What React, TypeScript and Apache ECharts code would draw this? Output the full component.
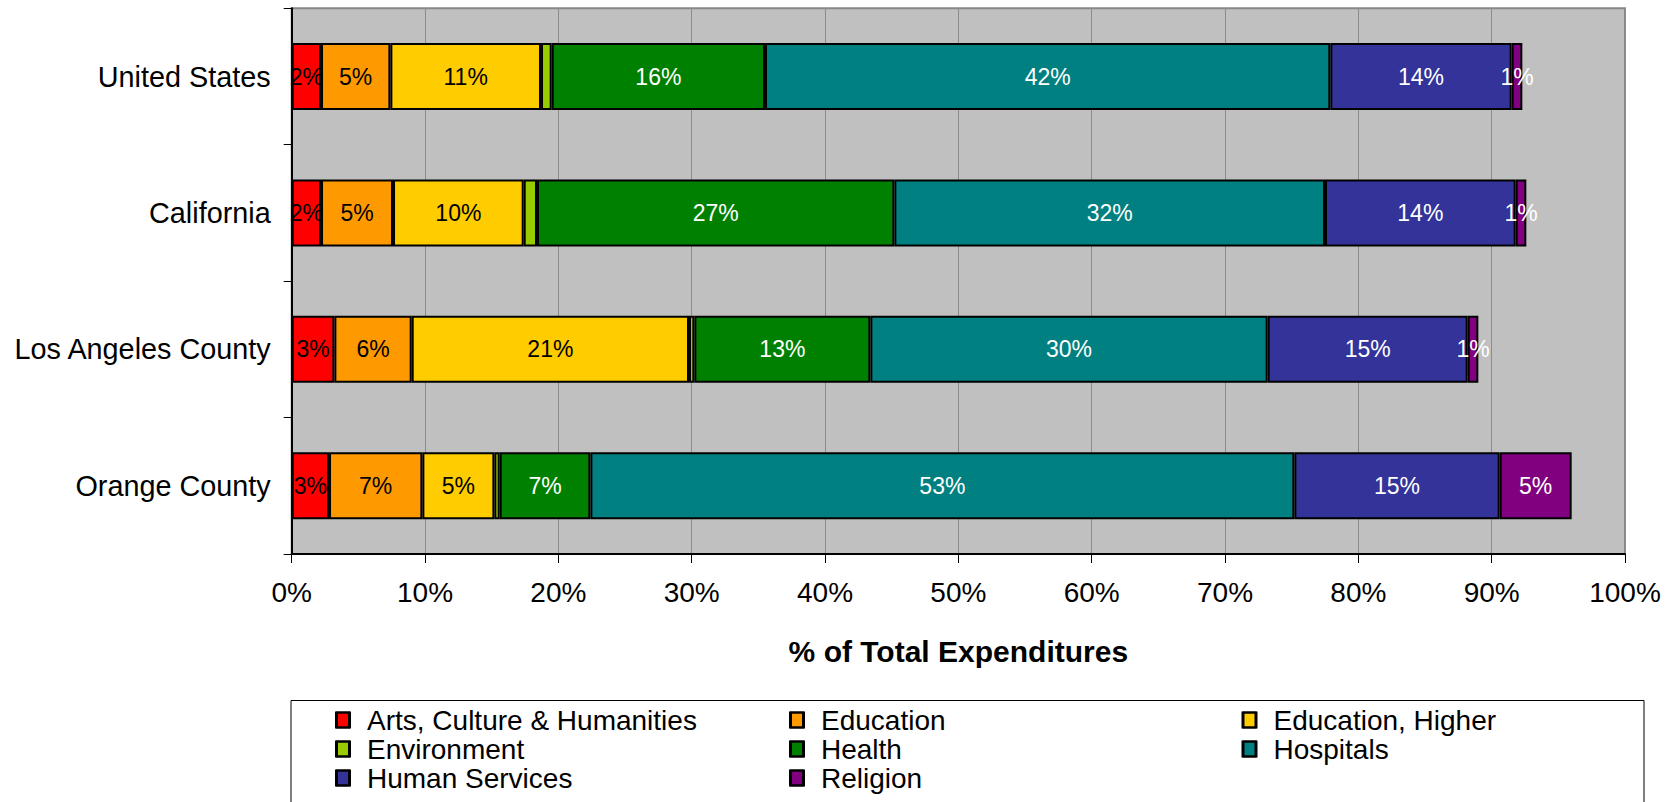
import React, { useEffect, useRef } from "react";
import * as echarts from "echarts";

const categories = ["United States", "California", "Los Angeles County", "Orange County"];

const seriesNames = [
  "Arts, Culture & Humanities",
  "Education",
  "Education, Higher",
  "Environment",
  "Health",
  "Hospitals",
  "Human Services",
  "Religion",
];

const arts = [2.2, 2.2, 3.2, 2.8];
const education = [5.2, 5.4, 5.8, 7.0];
const educationHigher = [11.3, 9.8, 20.8, 5.4];
const environment = [0.8, 1.0, 0.4, 0.4];
const health = [16.0, 26.8, 13.2, 6.8];
const hospitals = [42.4, 32.3, 29.8, 52.8];
const humanServices = [13.6, 14.3, 15.0, 15.4];
const religion = [0.8, 0.8, 0.8, 5.4];

const seriesValues = [arts, education, educationHigher, environment, health, hospitals, humanServices, religion];
const colors = ["#FF0000", "#FF9900", "#FFCC00", "#99CC00", "#008000", "#008080", "#333399", "#800080"];
const labelColors = ["#000", "#000", "#000", "#000", "#fff", "#fff", "#fff", "#fff"];
const showLabel = [true, true, true, false, true, true, true, true];

const xMin = 0;
const xMax = 100;
const xInterval = 10;

const legendColumns = [
  ["Arts, Culture & Humanities", "Environment", "Human Services"],
  ["Education", "Health", "Religion"],
  ["Education, Higher", "Hospitals"],
];
const legendLefts = [336, 790, 1242.5];

const FONT = "'Liberation Sans', Arial, sans-serif";

const LEGEND_TOP = 705.5;
const ROW_H = 29;
const ICON_W = 13;
const ICON_H = 15;

export default function App() {
  const ref = useRef<HTMLDivElement>(null);
  useEffect(() => {
    document.body.style.margin = "0";
    const chart = echarts.init(ref.current!, null, { renderer: "svg" });
    const iconFrames: any[] = [];
    legendColumns.forEach((col, i) => {
      col.forEach((_, k) => {
        iconFrames.push({
          type: "rect",
          silent: true,
          z: 100,
          shape: {
            x: legendLefts[i],
            y: LEGEND_TOP + (ROW_H - ICON_H) / 2 + k * ROW_H,
            width: ICON_W,
            height: ICON_H,
          },
          style: { fill: "none", stroke: "#000", lineWidth: 2 },
        });
      });
    });
    const option: any = {
      animation: false,
      backgroundColor: "#fff",
      textStyle: { fontFamily: FONT },
      grid: {
        left: 291.7,
        right: 52,
        top: 8.3,
        bottom: 248,
        show: true,
        backgroundColor: "#C0C0C0",
        borderColor: "#878787",
        borderWidth: 2,
      },
      xAxis: {
        type: "value",
        min: xMin,
        max: xMax,
        interval: xInterval,
        name: "% of Total Expenditures",
        nameLocation: "middle",
        nameGap: 82,
        nameTextStyle: { fontSize: 30, fontWeight: "bold", color: "#000", fontFamily: FONT },
        axisLine: { show: true, lineStyle: { color: "#000", width: 2 } },
        axisTick: { show: true, length: 9, lineStyle: { color: "#000", width: 1 } },
        axisLabel: { formatter: "{value}%", fontSize: 28, color: "#000", margin: 24, fontFamily: FONT },
        splitLine: { show: true, lineStyle: { color: "#8c8c8c", width: 1 } },
      },
      yAxis: {
        type: "category",
        data: categories,
        inverse: true,
        axisLine: { show: true, lineStyle: { color: "#000", width: 2 } },
        axisTick: { show: true, length: 8, lineStyle: { color: "#000", width: 1 } },
        axisLabel: { fontSize: 28.8, color: "#000", margin: 21, fontFamily: FONT },
        splitLine: { show: false },
      },
      legend: legendColumns.map((col, i) => ({
        orient: "vertical",
        left: legendLefts[i],
        top: LEGEND_TOP,
        padding: 0,
        itemGap: 0,
        itemWidth: ICON_W,
        itemHeight: ICON_H,
        selectedMode: false,
        data: col,
        icon: "rect",
        itemStyle: { borderColor: "#000", borderWidth: 2 },
        textStyle: { fontSize: 28, lineHeight: ROW_H, color: "#000", padding: [0, 0, 0, 12], fontFamily: FONT },
      })),
      graphic: [
        {
          type: "rect",
          shape: { x: 291, y: 700.5, width: 1353, height: 130 },
          style: { fill: "none", stroke: "#000", lineWidth: 1 },
          silent: true,
        },
        ...iconFrames,
      ],
      series: seriesNames.map((name, i) => ({
        name,
        type: "bar",
        stack: "total",
        barWidth: 67,
        data: seriesValues[i],
        itemStyle: { color: colors[i], borderColor: "#000", borderWidth: 2 },
        label: {
          show: showLabel[i],
          position: "inside",
          color: labelColors[i],
          fontSize: 23,
          fontFamily: FONT,
          formatter: (p: any) => Math.round(p.value) + "%",
        },
      })),
    };
    chart.setOption(option);
    return () => chart.dispose();
  }, []);
  return <div ref={ref} style={{ width: 1677, height: 802 }} />;
}
